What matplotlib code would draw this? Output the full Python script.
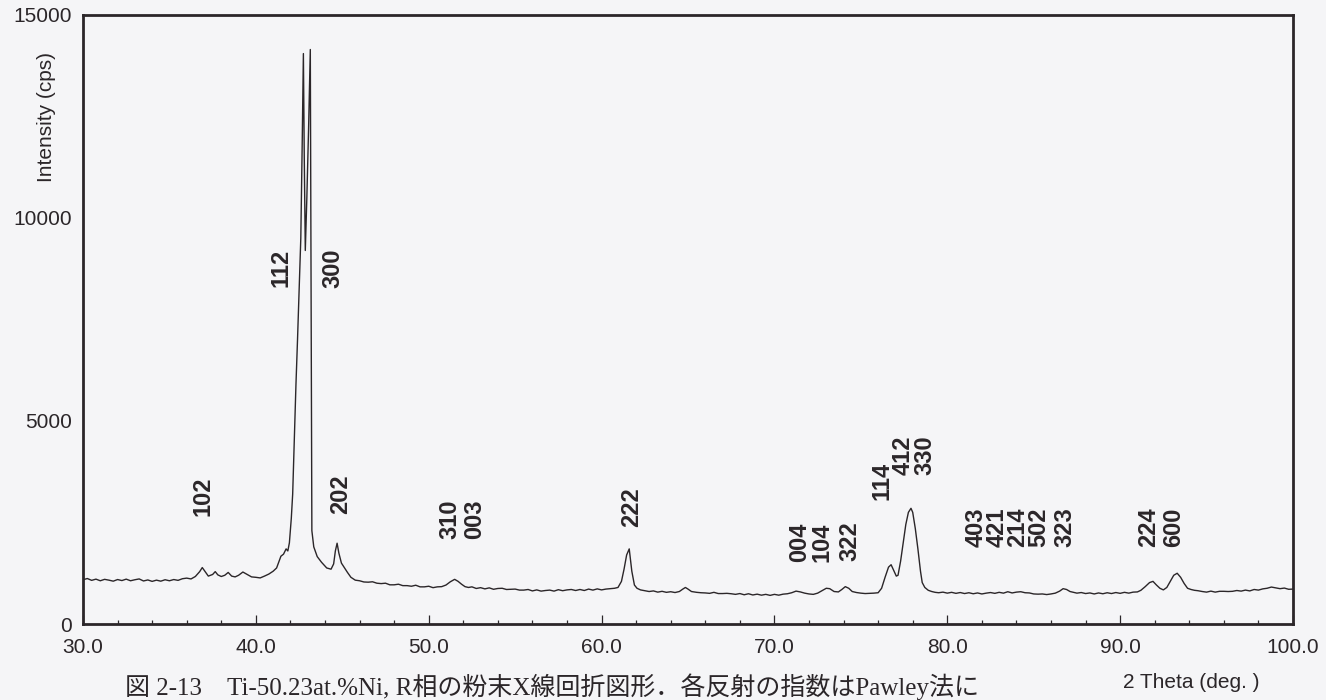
import matplotlib.pyplot as plt
from matplotlib.ticker import MultipleLocator

plt.rcParams['font.family'] = ['Liberation Sans', 'DejaVu Sans']

# powder pattern, 2-theta (deg) vs intensity (cps)
two_theta = [
    30.00, 30.25, 30.50, 30.75, 31.00, 31.25, 31.50, 31.75,
    32.00, 32.25, 32.50, 32.75, 33.00, 33.25, 33.50, 33.75,
    34.00, 34.25, 34.50, 34.75, 35.00, 35.25, 35.50, 35.75,
    36.00, 36.25, 36.50, 36.75, 36.90, 37.05, 37.25, 37.50,
    37.65, 37.80, 38.00, 38.20, 38.40, 38.60, 38.80, 39.00,
    39.25, 39.50, 39.75, 40.00, 40.25, 40.50, 40.75, 41.00,
    41.20, 41.45, 41.60, 41.75, 41.85, 41.94, 42.05, 42.13,
    42.22, 42.32, 42.41, 42.50, 42.60, 42.68, 42.75, 42.80,
    42.86, 42.95, 43.05, 43.15, 43.20, 43.24, 43.35, 43.55,
    43.80, 44.10, 44.35, 44.50, 44.60, 44.70, 44.80, 44.95,
    45.10, 45.30, 45.50, 45.75, 46.00, 46.25, 46.50, 46.75,
    47.00, 47.25, 47.50, 47.75, 48.00, 48.25, 48.50, 48.75,
    49.00, 49.25, 49.50, 49.75, 50.00, 50.25, 50.50, 50.75,
    51.00, 51.25, 51.50, 51.70, 51.90, 52.10, 52.30, 52.50,
    52.75, 53.00, 53.25, 53.50, 53.75, 54.00, 54.25, 54.50,
    54.75, 55.00, 55.25, 55.50, 55.75, 56.00, 56.25, 56.50,
    56.75, 57.00, 57.25, 57.50, 57.75, 58.00, 58.25, 58.50,
    58.75, 59.00, 59.25, 59.50, 59.75, 60.00, 60.25, 60.50,
    60.75, 60.95, 61.15, 61.30, 61.45, 61.60, 61.75, 61.90,
    62.05, 62.25, 62.50, 62.75, 63.00, 63.25, 63.50, 63.75,
    64.00, 64.25, 64.50, 64.70, 64.85, 65.00, 65.20, 65.50,
    65.75, 66.00, 66.25, 66.50, 66.75, 67.00, 67.25, 67.50,
    67.75, 68.00, 68.25, 68.50, 68.75, 69.00, 69.25, 69.50,
    69.75, 70.00, 70.25, 70.50, 70.75, 71.00, 71.25, 71.50,
    71.75, 72.00, 72.25, 72.50, 72.75, 73.00, 73.20, 73.45,
    73.70, 73.90, 74.10, 74.30, 74.50, 74.75, 75.00, 75.25,
    75.50, 75.75, 76.00, 76.20, 76.40, 76.60, 76.75, 76.90,
    77.05, 77.15, 77.30, 77.45, 77.60, 77.75, 77.90, 78.00,
    78.15, 78.30, 78.45, 78.55, 78.70, 78.90, 79.10, 79.30,
    79.50, 79.75, 80.00, 80.25, 80.50, 80.75, 81.00, 81.25,
    81.50, 81.75, 82.00, 82.25, 82.50, 82.75, 83.00, 83.25,
    83.50, 83.75, 84.00, 84.25, 84.50, 84.75, 85.00, 85.25,
    85.50, 85.75, 86.00, 86.25, 86.50, 86.70, 86.90, 87.10,
    87.30, 87.50, 87.75, 88.00, 88.25, 88.50, 88.75, 89.00,
    89.25, 89.50, 89.75, 90.00, 90.25, 90.50, 90.75, 91.00,
    91.20, 91.45, 91.70, 91.90, 92.10, 92.30, 92.50, 92.70,
    92.90, 93.10, 93.30, 93.50, 93.70, 93.90, 94.10, 94.30,
    94.50, 94.75, 95.00, 95.25, 95.50, 95.75, 96.00, 96.25,
    96.50, 96.75, 97.00, 97.25, 97.50, 97.75, 98.00, 98.25,
    98.50, 98.75, 99.00, 99.25, 99.50, 99.75, 100.00,
]
counts = [
    1090, 1120, 1075, 1105, 1065, 1100, 1080, 1055,
    1095, 1070, 1105, 1065, 1090, 1110, 1060, 1085,
    1050, 1080, 1055, 1090, 1065, 1095, 1075, 1115,
    1130, 1110, 1170, 1290, 1390, 1300, 1180, 1220,
    1290, 1210, 1170, 1200, 1270, 1180, 1160, 1200,
    1280, 1220, 1160, 1150, 1135, 1180, 1230, 1300,
    1380, 1670, 1720, 1850, 1800, 2000, 2600, 3200,
    4500, 5900, 7000, 8200, 9500, 11800, 14050, 11500,
    9200, 10500, 12200, 14150, 8000, 2300, 1900, 1660,
    1520, 1380, 1350, 1480, 1800, 1990, 1750, 1500,
    1400, 1270, 1150, 1080, 1065, 1035, 1030, 1040,
    1005, 995, 1005, 965, 965, 980, 945, 945,
    930, 955, 915, 915, 930, 895, 915, 920,
    960, 1040, 1100, 1050, 980, 920, 900, 915,
    875, 895, 865, 890, 855, 875, 880, 850,
    855, 860, 835, 835, 850, 815, 840, 810,
    825, 835, 810, 845, 820, 840, 850, 825,
    850, 825, 860, 835, 865, 840, 860, 870,
    880, 900, 1050, 1350, 1700, 1850, 1300, 960,
    880, 840, 820, 800, 815, 785, 805, 780,
    795, 775, 800, 860, 900, 860, 800, 780,
    770, 765, 755, 780, 750, 750, 755, 745,
    730, 750, 720, 745, 715, 735, 710, 730,
    705, 730, 710, 735, 745, 770, 810, 790,
    760, 740, 730, 760, 820, 880, 870, 800,
    790, 850, 920, 880, 800, 775, 760, 750,
    755, 760, 770, 880, 1150, 1400, 1460, 1320,
    1180, 1200, 1550, 2000, 2450, 2750, 2850, 2750,
    2350, 1850, 1300, 1020, 900, 830, 800, 780,
    770, 785, 760, 780, 755, 775, 750, 770,
    745, 765, 740, 760, 775, 755, 780, 760,
    795, 765, 785, 795, 770, 765, 740, 735,
    740, 725, 740, 760, 810, 870, 850, 800,
    780, 760, 775, 750, 765, 740, 765, 745,
    770, 750, 775, 755, 780, 760, 785, 790,
    830, 920, 1020, 1050, 960, 880, 840, 900,
    1050, 1200, 1250, 1150, 1000, 880, 850, 830,
    820, 800, 785, 810, 785, 805, 805, 800,
    805, 825, 810, 835, 815, 850, 835, 865,
    880, 910, 890, 870, 885, 855, 860,
]
assert len(two_theta) == len(counts)

# reflection indices: label, position (deg), height where the label starts (cps)
# closely spaced indices share one rotated text block
hkl_labels = ['102', '112', '300', '202', '310', '003', '222',
              '004', '104', '322', '114', '412', '330',
              '403\n421\n214\n502', '323', '224', '600']
hkl_theta = [36.97, 41.45, 44.44, 44.89, 51.20, 52.65, 61.73,
             71.48, 72.78, 74.38, 76.21, 77.47, 78.69,
             83.49, 86.80, 91.63, 93.11]
hkl_base = [2670, 8300, 8280, 2720, 2100, 2100, 2390,
            1530, 1530, 1560, 3060, 3680, 3680,
            1890, 1890, 1900, 1900]

x_major = [30, 40, 50, 60, 70, 80, 90, 100]
y_major = [0, 5000, 10000, 15000]

paper = '#f5f5f7'
ink = '#2b2629'

fig = plt.figure(figsize=(13.26, 7.0), dpi=100, facecolor=paper)
ax = fig.add_axes([83 / 1326, 76 / 700, 1210 / 1326, 609 / 700])
ax.set_facecolor(paper)

ax.plot(two_theta, counts, color=ink, lw=1.0)

ax.set_xlim(30, 100)
ax.set_ylim(0, 15000)

ax.set_xticks(x_major)
ax.set_xticklabels(['{:.1f}'.format(v) for v in x_major])
ax.xaxis.set_minor_locator(MultipleLocator(2))
ax.set_yticks(y_major)
ax.set_yticklabels([str(v) for v in y_major])

ax.tick_params(axis='x', which='major', direction='in', length=6.5, width=0.9,
               color=ink, pad=10, labelsize=15, labelcolor=ink)
ax.tick_params(axis='x', which='minor', direction='in', length=3.2, width=0.9, color=ink)
ax.tick_params(axis='y', length=0, pad=8, labelsize=15, labelcolor=ink)

for side in ['left', 'bottom', 'top', 'right']:
    ax.spines[side].set_linewidth(2.0)
    ax.spines[side].set_color(ink)

for lab, x, y in zip(hkl_labels, hkl_theta, hkl_base):
    ax.text(x, y, lab, rotation=90, ha='center', va='bottom', linespacing=0.88,
            fontsize=17, fontweight='bold', color=ink)

fig.text(46 / 1326, 1 - 117 / 700, 'Intensity (cps)', rotation=90,
         ha='center', va='center', fontsize=15, color=ink)
fig.text(1191 / 1326, 1 - 683 / 700, '2 Theta (deg. )',
         ha='center', va='center', fontsize=15, color=ink)

fig.text(125 / 1326, 1 - 687 / 700,
         '図 2-13\u3000Ti-50.23at.%Ni, R相の粉末X線回折図形．各反射の指数はPawley法に',
         ha='left', va='center', fontsize=18, color=ink,
         family=['Liberation Serif', 'Noto Sans CJK JP'])

fig.savefig('out.png', dpi=100, facecolor=paper)
